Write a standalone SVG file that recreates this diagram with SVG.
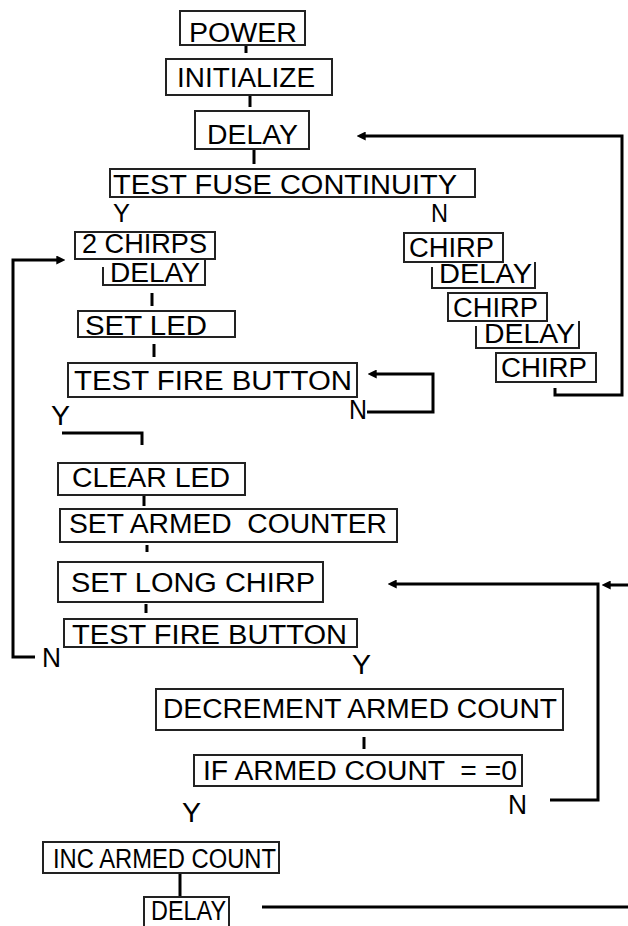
<svg xmlns="http://www.w3.org/2000/svg" width="628" height="926" viewBox="0 0 628 926">
<style>
.b{fill:#fff;stroke:#222;stroke-width:2}
.o{fill:none;stroke:#222;stroke-width:2}
text{font-family:"Liberation Sans",Arial,sans-serif;font-size:27px;fill:#000}
.l{font-size:25px}
.c{fill:none;stroke:#000;stroke-width:3;stroke-linejoin:miter}
</style>
<defs>
<marker id="ah" markerUnits="userSpaceOnUse" viewBox="0 0 10 10" markerWidth="9" markerHeight="9" refX="3" refY="5" orient="auto">
<path d="M0,0 L10,5 L0,10 z" fill="#000"/>
</marker>
</defs>
<rect width="628" height="926" fill="#fff"/>

<g id="connectors">
<path class="c" d="M246,45 V53"/>
<path class="c" d="M250,95 V107"/>
<path class="c" d="M254,149 V164"/>
<path class="c" d="M152,293 V306"/>
<path class="c" d="M154,344 V357"/>
<path class="c" d="M144,495 V506"/>
<path class="c" d="M147,545 V552"/>
<path class="c" d="M146,604 V613"/>
<path class="c" d="M364,737 V749"/>
<path class="c" d="M180,873 V897"/>
<path class="c" d="M555,388 V395 H622 V136 H363" marker-end="url(#ah)"/>
<path class="c" d="M367,412 H433 V374 H374" marker-end="url(#ah)"/>
<path class="c" d="M62,433 H142 V445"/>
<path class="c" d="M35,657 H13 V260 H59" marker-end="url(#ah)"/>
<path class="c" d="M550,800 H598 V584 H394" marker-end="url(#ah)"/>
<path class="c" d="M262,907 H628"/>
<path class="c" d="M628,585 H608" marker-end="url(#ah)"/>
</g>

<g id="labels">
<text class="l" x="113" y="222" textLength="17" lengthAdjust="spacingAndGlyphs">Y</text>
<text class="l" x="431" y="222" textLength="17" lengthAdjust="spacingAndGlyphs">N</text>
<text x="349" y="419" textLength="18" lengthAdjust="spacingAndGlyphs">N</text>
<text x="51" y="425" textLength="19" lengthAdjust="spacingAndGlyphs">Y</text>
<text x="42" y="667" textLength="19" lengthAdjust="spacingAndGlyphs">N</text>
<text x="352" y="674" textLength="19" lengthAdjust="spacingAndGlyphs">Y</text>
<text x="182" y="822" textLength="19" lengthAdjust="spacingAndGlyphs">Y</text>
<text x="508" y="814" textLength="19" lengthAdjust="spacingAndGlyphs">N</text>
</g>

<g id="power"><rect class="b" x="180" y="11" width="125" height="34"/><text x="189" y="42" textLength="108" lengthAdjust="spacingAndGlyphs">POWER</text></g>
<g id="initialize"><rect class="b" x="166" y="59" width="166" height="36"/><text x="177" y="87" textLength="138" lengthAdjust="spacingAndGlyphs">INITIALIZE</text></g>
<g id="delay1"><rect class="b" x="195" y="111" width="114" height="38"/><text x="207" y="144" textLength="91" lengthAdjust="spacingAndGlyphs">DELAY</text></g>
<g id="test-fuse"><rect class="b" x="110" y="169" width="365" height="28"/><text x="113" y="194" textLength="344" lengthAdjust="spacingAndGlyphs">TEST FUSE CONTINUITY</text></g>

<g id="chirps2"><rect class="b" x="75" y="232" width="140" height="27"/><text x="82" y="253" textLength="125" lengthAdjust="spacingAndGlyphs">2 CHIRPS</text></g>
<g id="delay2"><path class="o" d="M103,267 V285 H205 V259"/><text x="110" y="282" textLength="90" lengthAdjust="spacingAndGlyphs">DELAY</text></g>
<g id="set-led"><rect class="b" x="78" y="311" width="157" height="26"/><text x="85" y="335" textLength="122" lengthAdjust="spacingAndGlyphs">SET LED</text></g>
<g id="test-fire1"><rect class="b" x="68" y="363" width="289" height="34"/><text x="74" y="390" textLength="278" lengthAdjust="spacingAndGlyphs">TEST FIRE BUTTON</text></g>

<g id="chirp-r1"><rect class="b" x="404" y="233" width="99" height="29"/><text x="409" y="257" textLength="85" lengthAdjust="spacingAndGlyphs">CHIRP</text></g>
<g id="delay-r1"><path class="o" d="M432,267 V288 H535 V262"/><text x="439" y="283" textLength="93" lengthAdjust="spacingAndGlyphs">DELAY</text></g>
<g id="chirp-r2"><rect class="b" x="448" y="293" width="99" height="28"/><text x="453" y="317" textLength="85" lengthAdjust="spacingAndGlyphs">CHIRP</text></g>
<g id="delay-r2"><path class="o" d="M476,326 V348 H579 V321"/><text x="484" y="343" textLength="91" lengthAdjust="spacingAndGlyphs">DELAY</text></g>
<g id="chirp-r3"><rect class="b" x="496" y="353" width="100" height="29"/><text x="501" y="377" textLength="86" lengthAdjust="spacingAndGlyphs">CHIRP</text></g>

<g id="clear-led"><rect class="b" x="58" y="463" width="187" height="32"/><text x="72" y="487" textLength="158" lengthAdjust="spacingAndGlyphs">CLEAR LED</text></g>
<g id="set-armed-counter"><rect class="b" x="60" y="509" width="337" height="33"/><text x="69" y="533" textLength="318" lengthAdjust="spacingAndGlyphs" style="white-space:pre">SET ARMED  COUNTER</text></g>
<g id="set-long-chirp"><rect class="b" x="58" y="562" width="265" height="40"/><text x="71" y="592" textLength="244" lengthAdjust="spacingAndGlyphs">SET LONG CHIRP</text></g>
<g id="test-fire2"><rect class="b" x="64" y="619" width="293" height="28"/><text x="72" y="644" textLength="275" lengthAdjust="spacingAndGlyphs">TEST FIRE BUTTON</text></g>
<g id="decrement"><rect class="b" x="156" y="689" width="407" height="41"/><text x="163" y="718" textLength="394" lengthAdjust="spacingAndGlyphs">DECREMENT ARMED COUNT</text></g>
<g id="if-zero"><rect class="b" x="194" y="755" width="328" height="31"/><text x="203" y="780" textLength="314" lengthAdjust="spacingAndGlyphs" style="white-space:pre">IF ARMED COUNT  = =0</text></g>
<g id="inc-armed"><rect class="b" x="43" y="842" width="236" height="31"/><text x="53" y="868" textLength="223" lengthAdjust="spacingAndGlyphs">INC ARMED COUNT</text></g>
<g id="delay-bottom"><rect class="b" x="144" y="897" width="85" height="36"/><text x="151" y="920" textLength="75" lengthAdjust="spacingAndGlyphs">DELAY</text></g>
</svg>
